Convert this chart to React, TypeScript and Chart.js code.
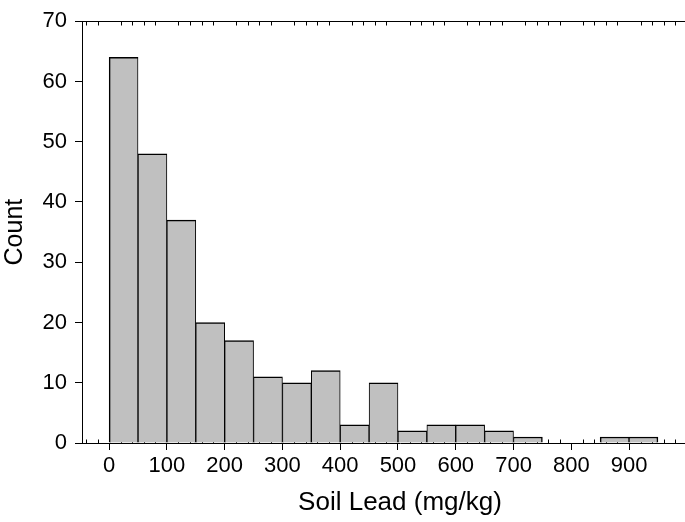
import React, { useEffect, useRef } from "react";
import { Chart, registerables } from "chart.js";

Chart.register(...registerables);

// ---- data ----
const binStarts = [0, 50, 100, 150, 200, 250, 300, 350, 400, 450, 500, 550, 600, 650, 700, 750, 800, 850, 900];
const binWidth = 50;
const counts = [64, 48, 37, 20, 17, 11, 10, 12, 3, 10, 2, 3, 3, 2, 1, 0, 0, 1, 1];
const xTickValues = [0, 100, 200, 300, 400, 500, 600, 700, 800, 900];
const yTickValues = [0, 10, 20, 30, 40, 50, 60, 70];
const minorStep = 20;
const xLabel = "Soil Lead (mg/kg)";
const yLabel = "Count";

const FONT = "'Liberation Sans', Arial, Helvetica, sans-serif";

const framePlugin = {
  id: "frameMinor",
  beforeDatasetsDraw(chart: any) {
    const { ctx, chartArea, scales } = chart;
    const x = scales.x;
    ctx.save();
    ctx.strokeStyle = "#000";
    ctx.lineWidth = 1;
    const ty = Math.round(chartArea.top) + 0.5;
    ctx.beginPath();
    ctx.moveTo(chartArea.left, ty);
    ctx.lineTo(chartArea.right, ty);
    ctx.stroke();
    const by = Math.round(chartArea.bottom) + 0.5;
    const start = Math.ceil(x.min / minorStep) * minorStep;
    for (let v = start; v <= x.max; v += minorStep) {
      if (v % 100 === 0) continue;
      const px = Math.round(x.getPixelForValue(v)) + 0.5;
      if (px <= chartArea.left + 1 || px > chartArea.right) continue;
      ctx.beginPath();
      ctx.moveTo(px, by);
      ctx.lineTo(px, by - 4);
      ctx.moveTo(px, ty);
      ctx.lineTo(px, ty + 4);
      ctx.stroke();
    }
    ctx.restore();
  },
};

export default function App() {
  const ref = useRef<HTMLCanvasElement | null>(null);

  useEffect(() => {
    if (!ref.current) return;
    const data = binStarts.map((s, i) => ({
      x: s + binWidth / 2,
      y: counts[i] > 0 ? counts[i] : null,
    }));
    const chart = new Chart(ref.current, {
      type: "bar",
      data: {
        datasets: [
          {
            data: data as any,
            backgroundColor: "#c0c0c0",
            borderColor: "#000",
            borderWidth: (c: any) => {
              const i = c.dataIndex;
              const prevEmpty = i === 0 || !(counts[i - 1] > 0);
              const nextEmpty = i === counts.length - 1 || !(counts[i + 1] > 0);
              return {
                top: 1.5,
                left: prevEmpty ? 1.5 : 1,
                right: nextEmpty ? 1.5 : 1,
                bottom: 0,
              };
            },
            borderSkipped: "start",
            barPercentage: 1,
            categoryPercentage: 1,
          } as any,
        ],
      },
      options: {
        animation: false,
        responsive: false,
        devicePixelRatio: 1,
        layout: { padding: { top: 11, left: 0, right: 0, bottom: 0 } },
        plugins: { legend: { display: false }, tooltip: { enabled: false } },
        scales: {
          x: {
            type: "linear",
            position: "bottom",
            offset: false,
            min: -47,
            max: 1054,
            afterBuildTicks: (scale: any) => {
              scale.ticks = xTickValues.map((v) => ({ value: v }));
            },
            afterFit: (scale: any) => {
              scale.height = 79;
            },
            ticks: {
              font: { family: FONT, size: 22 },
              color: "#000",
              padding: 3,
              maxRotation: 0,
              autoSkip: false,
            },
            grid: {
              display: true,
              offset: false,
              drawOnChartArea: false,
              drawTicks: true,
              tickLength: 7,
              color: "#000",
              lineWidth: 1,
            },
            border: { display: true, color: "#000", width: 1 },
            title: {
              display: true,
              text: xLabel,
              color: "#000",
              font: { family: FONT, size: 26 },
              padding: { top: 0, bottom: 4 },
            },
          },
          y: {
            type: "linear",
            min: 0,
            max: 70,
            afterBuildTicks: (scale: any) => {
              scale.ticks = yTickValues.map((v) => ({ value: v }));
            },
            afterFit: (scale: any) => {
              scale.width = 82;
            },
            ticks: {
              font: { family: FONT, size: 22 },
              color: "#000",
              padding: 8,
            },
            grid: {
              display: true,
              drawOnChartArea: false,
              drawTicks: true,
              tickLength: 7,
              color: "#000",
              lineWidth: 1,
            },
            border: { display: true, color: "#000", width: 1 },
            title: {
              display: true,
              text: yLabel,
              color: "#000",
              font: { family: FONT, size: 25 },
              padding: { top: 0, bottom: 0 },
            },
          },
        },
      },
      plugins: [framePlugin],
    });
    return () => chart.destroy();
  }, []);

  return (
    <div
      style={{
        position: "fixed",
        left: 0,
        top: 0,
        width: 685,
        height: 522,
        overflow: "hidden",
        background: "#fff",
      }}
    >
      <canvas ref={ref} width={718} height={522} style={{ display: "block" }} />
    </div>
  );
}
